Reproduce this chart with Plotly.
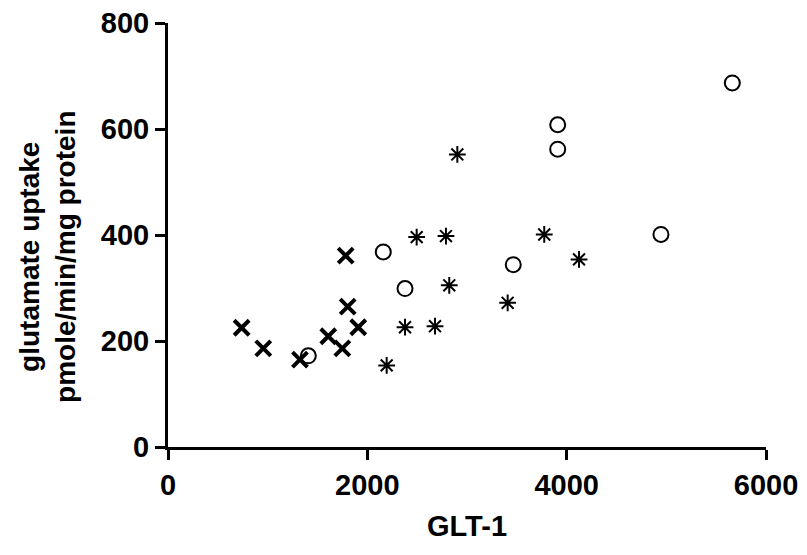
import plotly.graph_objects as go

# Data
cross_x = [1783, 739, 956, 1324, 1608, 1749, 1909, 1803]
cross_y = [361, 225, 186, 165, 209, 186, 226, 265]

circle_x = [1408, 2160, 2378, 3464, 3910, 3910, 4946, 5662]
circle_y = [172, 368, 299, 344, 608, 562, 401, 687]

star_x = [2194, 2378, 2679, 2495, 2789, 2822, 2903, 3408, 3775, 4124]
star_y = [154, 226, 228, 396, 398, 305, 552, 272, 401, 354]

x_ticks = [0, 2000, 4000, 6000]
y_ticks = [0, 200, 400, 600, 800]
x_title = "GLT-1"
y_title = "glutamate uptake<br>pmole/min/mg protein"

FONT = "Liberation Sans, Arial, sans-serif"

fig = go.Figure()
fig.add_trace(go.Scatter(
    x=cross_x, y=cross_y, mode="markers",
    marker=dict(symbol="x-thin-open", size=15, color="black",
                line=dict(width=4, color="black")),
    showlegend=False))
fig.add_trace(go.Scatter(
    x=circle_x, y=circle_y, mode="markers",
    marker=dict(symbol="circle-open", size=15, color="black",
                line=dict(width=2, color="black")),
    showlegend=False))
fig.add_trace(go.Scatter(
    x=star_x, y=star_y, mode="markers",
    marker=dict(symbol="asterisk-open", size=14, color="black",
                line=dict(width=2, color="black")),
    showlegend=False))

axis_common = dict(
    showline=True, linewidth=3, linecolor="black",
    ticks="outside", ticklen=10, tickwidth=3, tickcolor="black",
    showgrid=False, zeroline=False, automargin=False,
    ticklabeloverflow="allow",
    tickfont=dict(family=FONT, size=29, color="black", weight="bold"),
)

fig.update_xaxes(range=[0, 6000], tickvals=x_ticks,
                 ticktext=[str(v) for v in x_ticks], **axis_common)
fig.update_yaxes(range=[0, 800], tickvals=y_ticks,
                 ticktext=[str(v) for v in y_ticks], **axis_common)

fig.add_annotation(
    text=x_title, xref="paper", yref="paper", x=0.5, y=-0.187,
    xanchor="center", yanchor="middle", showarrow=False,
    font=dict(family=FONT, size=29, color="black", weight="bold"))
fig.add_annotation(
    text=y_title, xref="paper", yref="paper", x=-0.2015, y=0.447,
    xanchor="center", yanchor="middle", showarrow=False, textangle=-90,
    font=dict(family=FONT, size=28, color="black", weight="bold"))

# page body has an 8px margin, so the figure is sized to fit the window
fig.update_layout(
    width=799, height=547,
    margin=dict(l=160, r=41, t=15, b=108),
    plot_bgcolor="white", paper_bgcolor="white",
)

fig.write_html("out.html")
